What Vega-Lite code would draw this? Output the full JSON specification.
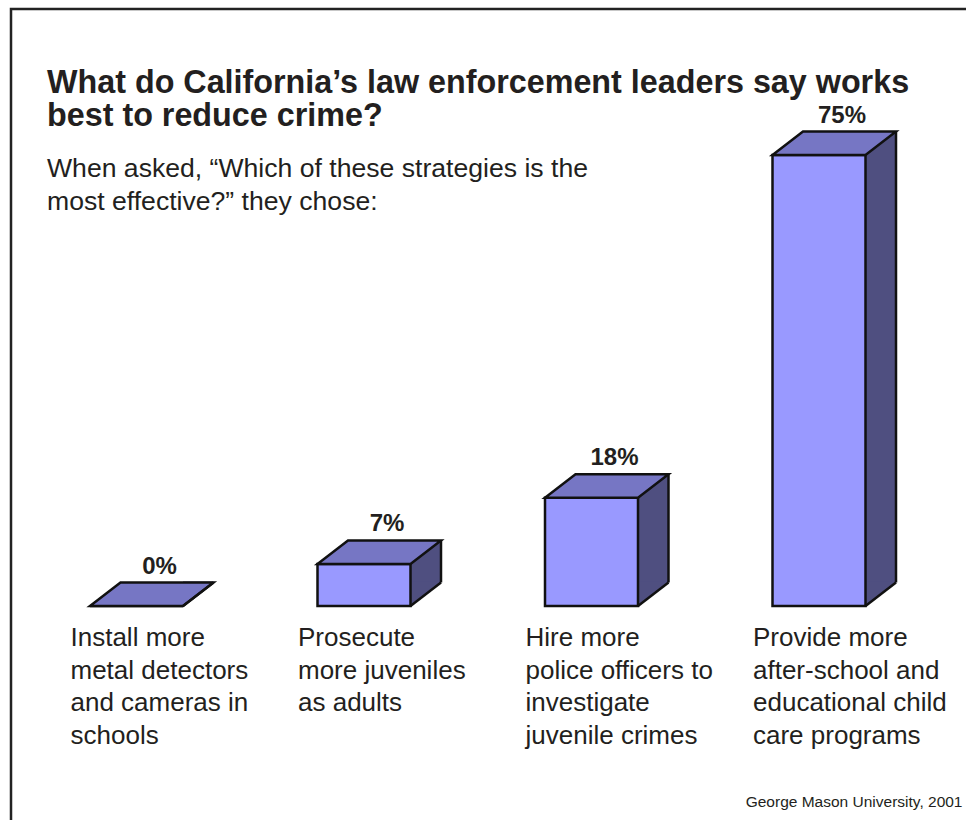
{
  "$schema": "https://vega.github.io/schema/vega-lite/v6.json",
  "autosize": "none",
  "padding": {"left": 11, "top": 9, "right": 0, "bottom": 0},
  "width": 960,
  "height": 815,
  "background": "white",
  "config": {
    "font": "Liberation Sans",
    "view": {"stroke": "#222222", "strokeWidth": 2.5}
  },
  "title": {
    "text": ["What do California’s law enforcement leaders say works", "best to reduce crime?"],
    "subtitle": ["When asked, “Which of these strategies is the", "most effective?” they chose:"],
    "anchor": "start",
    "frame": "group",
    "orient": "top",
    "offset": 0,
    "dx": 36,
    "dy": 207,
    "font": "Liberation Sans",
    "fontSize": 32.3,
    "fontWeight": "bold",
    "lineHeight": 33,
    "color": "#231F20",
    "subtitleFont": "Liberation Sans",
    "subtitleFontSize": 26.6,
    "subtitleLineHeight": 33,
    "subtitleColor": "#231F20",
    "subtitlePadding": 24
  },
  "data": {
    "values": [
      {"id": 1, "value": 0.0, "strategy": "Install more\nmetal detectors\nand cameras in\nschools"},
      {"id": 2, "value": 0.07, "strategy": "Prosecute\nmore juveniles\nas adults"},
      {"id": 3, "value": 0.18, "strategy": "Hire more\npolice officers to\ninvestigate\njuvenile crimes"},
      {"id": 4, "value": 0.75, "strategy": "Provide more\nafter-school and\neducational child\ncare programs"}
    ]
  },
  "encoding": {
    "x": {
      "field": "id",
      "type": "ordinal",
      "scale": {"range": [11.75, 921.75], "paddingInner": 0, "paddingOuter": 0},
      "axis": {
        "labels": false, "ticks": false, "domain": false, "grid": false,
        "title": "George Mason University, 2001",
        "titleFont": "Liberation Sans", "titleFontSize": 15.5, "titleFontWeight": "normal",
        "titleColor": "#231F20", "titleAlign": "right", "titleBaseline": "alphabetic",
        "titleX": 951, "titleY": -18
      }
    }
  },
  "layer": [
    {
      "mark": {"type": "bar", "size": 30.5, "xOffset": 61.75, "yOffset": -23.5, "fill": "#4F4F80", "strokeWidth": 0},
      "encoding": {
        "y": {"field": "value", "type": "quantitative", "scale": {"domain": [0, 0.75], "range": [597, 146], "nice": false}, "axis": null}
      }
    },
    {
      "mark": {"type": "point", "shape": "M46.5,0L46.5,-24.5L77,-24.5L77,-23.5Z", "size": 4, "filled": true, "fill": "#4F4F80", "strokeWidth": 0, "opacity": 1},
      "encoding": {
        "y": {"datum": 0, "type": "quantitative"}
      }
    },
    {
      "mark": {"type": "bar", "size": 93, "fill": "#9999FF", "stroke": "#111111", "strokeWidth": 2.5},
      "encoding": {
        "y": {"field": "value", "type": "quantitative"}
      }
    },
    {
      "mark": {"type": "point", "shape": "M-46.5,0L46.5,0L77,-23.5L-16,-23.5Z", "size": 4, "filled": true, "fill": "#7676C4", "stroke": "#111111", "strokeWidth": 2.5, "opacity": 1},
      "encoding": {
        "y": {"field": "value", "type": "quantitative"}
      }
    },
    {
      "mark": {"type": "rule", "xOffset": 77, "yOffset": -23.5, "y2Offset": -23.5, "stroke": "#111111", "strokeWidth": 2.5},
      "encoding": {
        "y": {"field": "value", "type": "quantitative"},
        "y2": {"datum": 0}
      }
    },
    {
      "mark": {"type": "point", "shape": "M46.5,0L77,-23.5", "size": 4, "filled": false, "fill": null, "stroke": "#111111", "strokeWidth": 2.5, "opacity": 1},
      "encoding": {
        "y": {"datum": 0, "type": "quantitative"}
      }
    },
    {
      "mark": {"type": "text", "xOffset": 23, "yOffset": -32.5, "fontSize": 24, "fontWeight": "bold", "color": "#231F20", "align": "center", "baseline": "alphabetic"},
      "encoding": {
        "y": {"field": "value", "type": "quantitative"},
        "text": {"field": "value", "type": "quantitative", "format": ".0%"}
      }
    },
    {
      "mark": {"type": "text", "xOffset": -66, "yOffset": 40, "fontSize": 26, "lineHeight": 32.5, "lineBreak": "\n", "color": "#231F20", "align": "left", "baseline": "alphabetic"},
      "encoding": {
        "y": {"datum": 0, "type": "quantitative"},
        "text": {"field": "strategy", "type": "nominal"}
      }
    }
  ]
}
